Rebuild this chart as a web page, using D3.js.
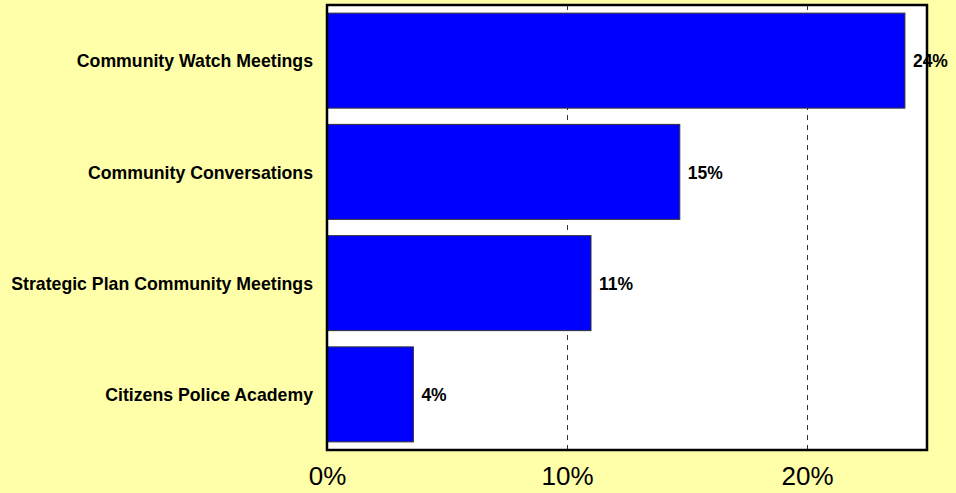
<!DOCTYPE html>
<html>
<head>
<meta charset="utf-8">
<script src="https://cdn.jsdelivr.net/npm/d3@7"></script>
<style>
  html, body { margin: 0; padding: 0; background: #FFFFAA; }
  svg { display: block; }
</style>
</head>
<body>
<div id="chart"></div>
<script>
// Share of respondents who attended each event
const categories = [
  "Community Watch Meetings",
  "Community Conversations",
  "Strategic Plan Community Meetings",
  "Citizens Police Academy"
];
const values = [0.2408, 0.147, 0.110, 0.036];
const tickValues = [0, 0.10, 0.20];

const W = 956, H = 493;
const plot = { left: 327, top: 5, right: 927, bottom: 450 };

const svg = d3.select("#chart").append("svg")
  .attr("width", W).attr("height", H);

svg.append("rect").attr("width", W).attr("height", H).attr("fill", "#FFFFAA");

const x = d3.scaleLinear().domain([0, 0.25]).range([plot.left, plot.right]);
const y = d3.scaleBand().domain(categories)
  .range([plot.top, plot.bottom])
  .paddingInner(0.146).paddingOuter(0.073);

// plot background
svg.append("rect")
  .attr("x", plot.left).attr("y", plot.top)
  .attr("width", plot.right - plot.left).attr("height", plot.bottom - plot.top)
  .attr("fill", "#fff");

// dashed vertical gridlines
svg.append("g").selectAll("line")
  .data(tickValues.filter(d => d > 0))
  .join("line")
  .attr("x1", d => Math.round(x(d)) + 0.5).attr("x2", d => Math.round(x(d)) + 0.5)
  .attr("y1", plot.top).attr("y2", plot.bottom)
  .attr("stroke", "#333").attr("stroke-width", 1)
  .attr("stroke-dasharray", "5,5");

// bars
const data = categories.map((c, i) => ({ c, v: values[i] }));
svg.append("g").selectAll("rect")
  .data(data)
  .join("rect")
  .attr("x", x(0))
  .attr("y", d => y(d.c))
  .attr("width", d => x(d.v) - x(0))
  .attr("height", y.bandwidth())
  .attr("fill", "#0000FF")
  .attr("stroke", "#333")
  .attr("stroke-width", 1);

// value labels
const fmt = d3.format(".0%");
svg.append("g").selectAll("text")
  .data(data)
  .join("text")
  .attr("x", d => x(d.v) + 8)
  .attr("y", d => y(d.c) + y.bandwidth() / 2)
  .attr("dy", "0.38em")
  .attr("font-family", "Liberation Sans, Arial, sans-serif")
  .attr("font-weight", "bold")
  .attr("font-size", 17.5)
  .attr("fill", "#000")
  .text(d => fmt(d.v));

// category axis labels
svg.append("g").selectAll("text")
  .data(categories)
  .join("text")
  .attr("x", plot.left - 14)
  .attr("y", d => y(d) + y.bandwidth() / 2)
  .attr("dy", "0.38em")
  .attr("text-anchor", "end")
  .attr("font-family", "Liberation Sans, Arial, sans-serif")
  .attr("font-weight", "bold")
  .attr("font-size", 17.7)
  .attr("fill", "#000")
  .text(d => d);

// value axis
const xAxis = d3.axisBottom(x).tickValues(tickValues).tickFormat(d3.format(".0%")).tickSize(0).tickPadding(17);
const gx = svg.append("g").attr("transform", `translate(0,${plot.bottom})`).call(xAxis);
gx.select(".domain").remove();
gx.selectAll("text")
  .attr("font-family", "Liberation Sans, Arial, sans-serif")
  .attr("font-size", 26)
  .attr("fill", "#000");

// plot frame
svg.append("rect")
  .attr("x", plot.left).attr("y", plot.top)
  .attr("width", plot.right - plot.left).attr("height", plot.bottom - plot.top)
  .attr("fill", "none").attr("stroke", "#000").attr("stroke-width", 2.5);
</script>
</body>
</html>
